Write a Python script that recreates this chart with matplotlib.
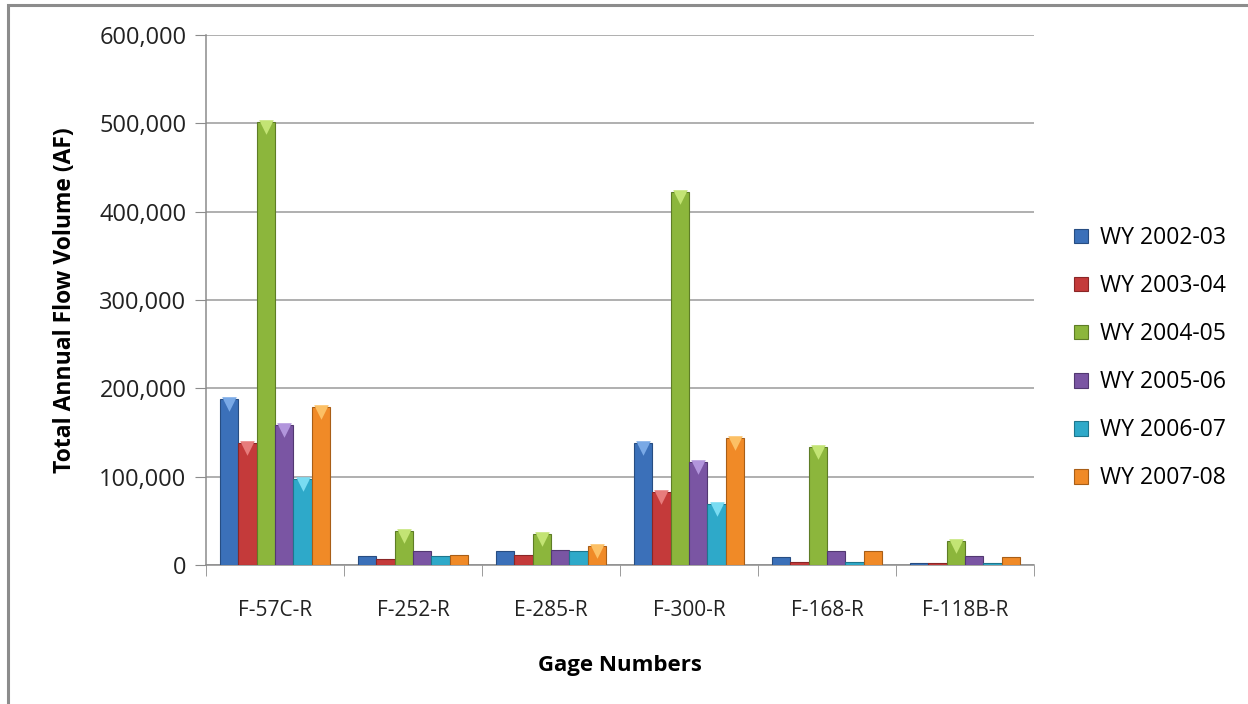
import numpy as np
import matplotlib.pyplot as plt
import matplotlib.transforms as mtransforms
from matplotlib.patches import Rectangle
from matplotlib.ticker import FuncFormatter, MultipleLocator

plt.rcParams['font.family'] = ['Open Sans', 'DejaVu Sans']

gages = ['F-57C-R', 'F-252-R', 'E-285-R', 'F-300-R', 'F-168-R', 'F-118B-R']
years = ['WY 2002-03', 'WY 2003-04', 'WY 2004-05', 'WY 2005-06', 'WY 2006-07', 'WY 2007-08']

wy0203 = [187600, 10200, 15800, 137800, 8700, 2600]
wy0304 = [137800, 6800, 11300, 82600, 3800, 2600]
wy0405 = [501000, 38900, 34700, 422600, 133200, 27200]
wy0506 = [158000, 15800, 17300, 116300, 15500, 10200]
wy0607 = [97700, 10200, 15800, 69400, 3800, 2600]
wy0708 = [178500, 11300, 21500, 143800, 15500, 8700]

series = [wy0203, wy0304, wy0405, wy0506, wy0607, wy0708]
colors = ['#3b70b9', '#c43a3a', '#8cb63c', '#7a55a3', '#2ea9c9', '#f08a27']
edges = ['#274d82', '#8a2626', '#5e7d26', '#523871', '#1d768d', '#a85e17']
lights = ['#79a9e6', '#e77c7c', '#c3e474', '#b295dc', '#79dcf2', '#fcc065']

fig = plt.figure(figsize=(12.48, 7.04), dpi=100)
# outer chart frame
fig.patches.append(Rectangle((8 / 1248, -0.05), 1.2, 1 - 5 / 704 + 0.05,
                             transform=fig.transFigure, fill=False,
                             edgecolor='#8c8c8c', linewidth=2.2))

ax = fig.add_axes([206 / 1248, 1 - 565 / 704, (1034 - 206) / 1248, (565 - 35) / 704])

x = np.arange(len(gages))
w = 0.8 / len(series)
down = mtransforms.ScaledTranslation(0, -5 / 100, fig.dpi_scale_trans)
for i, (vals, c, e, lc, lab) in enumerate(zip(series, colors, edges, lights, years)):
    pos = x - 0.4 + w * (i + 0.5)
    ax.bar(pos, vals, width=w, color=c, edgecolor=e, linewidth=0.8, label=lab, zorder=3)
    # light bevel cap on top of the taller bars
    vals = np.array(vals)
    tall = vals > 20000
    ax.scatter(pos[tall], vals[tall], marker='v', s=110, color=lc, linewidths=0,
               zorder=4, transform=ax.transData + down)

ax.set_xlim(-0.5, len(gages) - 0.5)
ax.set_ylim(0, 600000)
ax.yaxis.set_major_locator(MultipleLocator(100000))
ax.yaxis.set_major_formatter(FuncFormatter(lambda v, p: f'{int(v):,}'))
ax.set_xticks(x)
ax.set_xticklabels(gages)
ax.set_xticks(np.arange(-0.5, len(gages)), minor=True)
ax.tick_params(axis='x', which='major', length=0, pad=25, labelsize=15, labelcolor='#222222')
ax.tick_params(axis='x', which='minor', length=8, direction='out', color='#8c8c8c')
ax.tick_params(axis='y', length=8, direction='out', color='#8c8c8c', labelsize=17,
               labelcolor='#222222', pad=6)

ax.grid(axis='y', color='#9a9a9a', linewidth=1.1, zorder=0)
for s in ['top', 'right']:
    ax.spines[s].set_visible(False)
for s in ['left', 'bottom']:
    ax.spines[s].set_color('#8c8c8c')
    ax.spines[s].set_linewidth(1.1)

ax.set_ylabel('Total Annual Flow Volume (AF)', fontsize=16.5, fontweight='bold', labelpad=16)
ax.set_xlabel('Gage Numbers', fontsize=16, fontweight='bold', labelpad=25)

leg = ax.legend(loc='center left', bbox_to_anchor=(1.024, 0.39), frameon=False,
                fontsize=16.5, handlelength=0.6, handleheight=0.6, handletextpad=0.5,
                labelspacing=1.05)

fig.savefig('out.png', dpi=100)
